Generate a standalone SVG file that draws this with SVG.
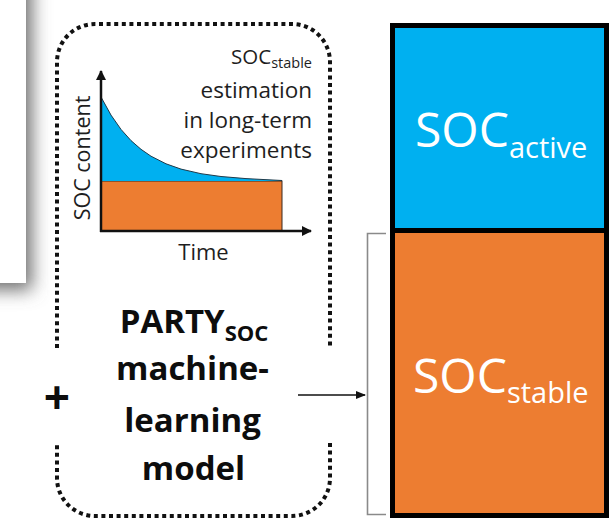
<svg xmlns="http://www.w3.org/2000/svg" width="615" height="519" viewBox="0 0 615 519">
<defs>
<style>
.t{font-family:"Open Sans","Noto Sans","DejaVu Sans",sans-serif;fill:#1e1e1e}
.b{font-weight:bold;fill:#0d0d0d}
.w{fill:#ffffff}
.dot{fill:none;stroke:#111;stroke-width:4;stroke-dasharray:4 3.6}
.ax{stroke:#111;stroke-width:2.5;fill:none}
.box{stroke:#000;stroke-width:5}
</style>
<filter id="sh" x="-1" y="-1" width="3" height="3">
<feGaussianBlur stdDeviation="9"/>
</filter>
<marker id="ah" viewBox="0 0 10 10" refX="9" refY="5" markerWidth="10" markerHeight="10" markerUnits="userSpaceOnUse" orient="auto">
<path d="M0,0 L10,5 L0,10 Z" fill="#111"/>
</marker>
<marker id="ah2" viewBox="0 0 10 8" refX="9" refY="4" markerWidth="10" markerHeight="8" markerUnits="userSpaceOnUse" orient="auto">
<path d="M0,0 L10,4 L0,8 Z" fill="#111"/>
</marker>
</defs>
<rect width="615" height="519" fill="#fff"/>

<g id="side-panel">
<rect x="-40" y="-40" width="72" height="330" fill="#6e6e6e" filter="url(#sh)"/>
<rect x="0" y="0" width="26" height="283" fill="#fff"/>
</g>

<g id="method-frame">
<path class="dot" d="M57,348 V62 A38,38 0 0 1 95,24 H292 A38,38 0 0 1 330,62 V348"/>
<path class="dot" d="M330,443 V478 A38,38 0 0 1 292,516 H95 A38,38 0 0 1 57,478 V443"/>
</g>

<g id="chart">
<rect x="101" y="181" width="181" height="50" fill="#ED7D31" stroke="#3a2a20" stroke-width="1"/>
<path d="M101,97 L111,115.1 L121,129.4 L131,140.6 L141,149.3 L151,156.2 L166,163.8 L181,169.1 L201,173.7 L221,176.5 L246,178.6 L282,180.5 L282,181 L101,181 Z" fill="#00B0F0"/>
<path d="M101,97 L111,115.1 L121,129.4 L131,140.6 L141,149.3 L151,156.2 L166,163.8 L181,169.1 L201,173.7 L221,176.5 L246,178.6 L282,180.5" fill="none" stroke="#1f3a4a" stroke-width="1"/>
<line class="ax" x1="101" y1="232" x2="101" y2="71" marker-end="url(#ah)"/>
<line class="ax" x1="100" y1="231" x2="311" y2="231" marker-end="url(#ah)"/>
<text class="t" x="83" y="158" font-size="21.5" text-anchor="middle" transform="rotate(-90 83 158)" dy="7">SOC content</text>
<text class="t" x="203.5" y="260" font-size="22" text-anchor="middle">Time</text>
<text class="t" x="312" y="64" font-size="20.5" text-anchor="end">SOC<tspan font-size="14.5" dy="4">stable</tspan></text>
<text class="t" x="312" y="98" font-size="22.5" text-anchor="end">estimation</text>
<text class="t" x="312" y="128" font-size="22.5" text-anchor="end">in long-term</text>
<text class="t" x="312" y="158" font-size="22.5" text-anchor="end">experiments</text>
</g>

<g id="model-label">
<text class="t b" x="194" y="333" font-size="33" text-anchor="middle">PARTY<tspan font-size="22" dy="8">SOC</tspan></text>
<text class="t b" x="192.5" y="380" font-size="33" text-anchor="middle">machine-</text>
<text class="t b" x="192.5" y="432" font-size="33" text-anchor="middle">learning</text>
<text class="t b" x="193.5" y="480" font-size="33" text-anchor="middle">model</text>
</g>

<g id="plus">
<text class="t b" x="57" y="414" font-size="46" text-anchor="middle">+</text>
</g>

<g id="soc-active">
<rect class="box" x="392.5" y="25.5" width="214" height="205" fill="#00B0F0"/>
<text class="t w" x="415" y="147" font-size="48">SOC<tspan font-size="29" dy="11">active</tspan></text>
</g>

<g id="soc-stable">
<rect class="box" x="392.5" y="230.5" width="214" height="285" fill="#ED7D31"/>
<text class="t w" x="413" y="393" font-size="48">SOC<tspan font-size="29" dy="10">stable</tspan></text>
</g>

<g id="connectors">
<path d="M386,233.5 H367.5 V514.5 H386" fill="none" stroke="#8a8a8a" stroke-width="1.6"/>
<line x1="298" y1="395" x2="365" y2="395" stroke="#111" stroke-width="1.3" marker-end="url(#ah2)"/>
</g>
</svg>
